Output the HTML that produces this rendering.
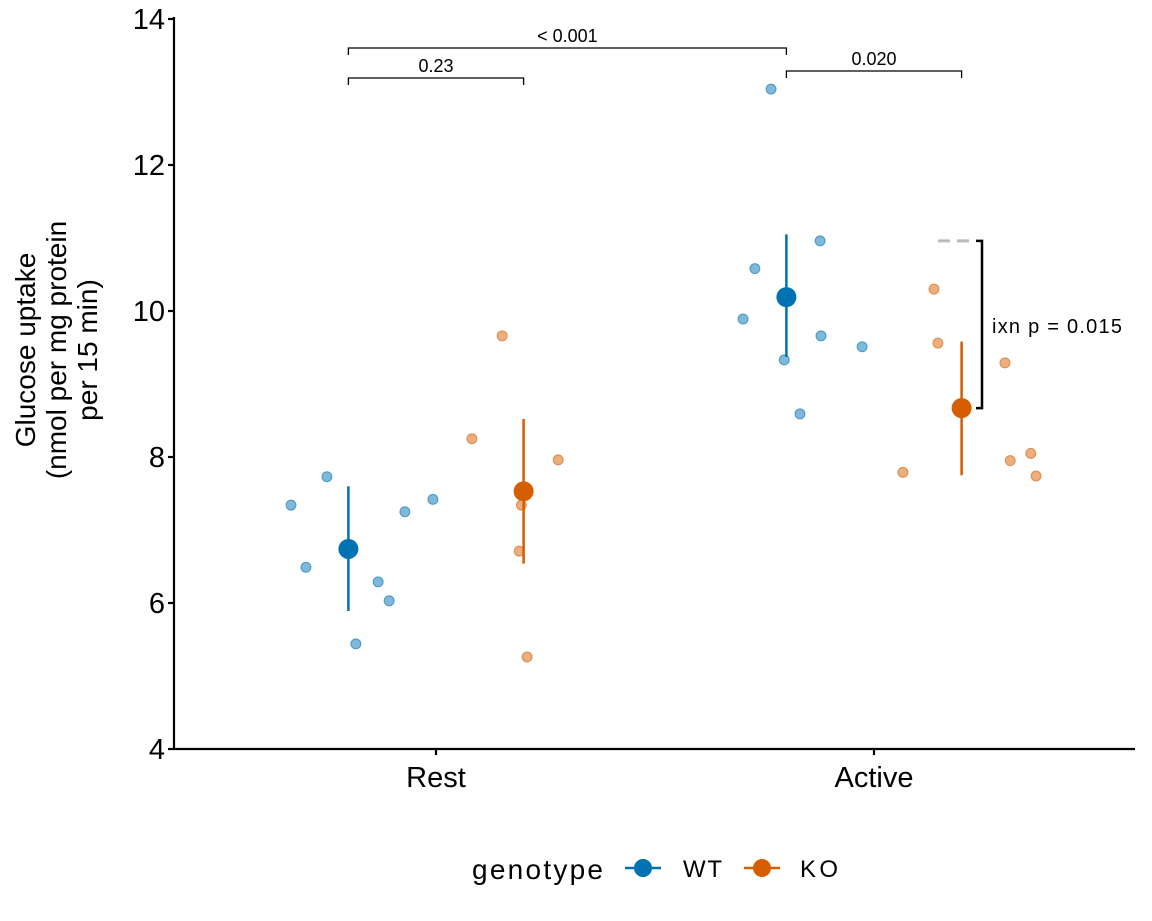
<!DOCTYPE html>
<html><head><meta charset="utf-8"><style>
body{margin:0;background:#fff}
svg{display:block;font-family:"Liberation Sans",Arial,sans-serif}
</style></head><body>
<svg width="1152" height="921" viewBox="0 0 1152 921" id="chart">
<g id="axes"></g>
<g id="marks"></g>
<g id="annot"></g>
<text transform="translate(56,350) rotate(-90)" text-anchor="middle" font-size="28">
<tspan x="0" dy="-21">Glucose uptake</tspan><tspan x="0" dy="31">(nmol per mg protein</tspan><tspan x="0" dy="31">per 15 min)</tspan></text>
<g>
<text x="472" y="879" font-size="28" textLength="131">genotype</text>
<g><line x1="625" y1="868" x2="661" y2="868" stroke="#0072B2" stroke-width="2.5"/><circle cx="643" cy="868" r="9" fill="#0072B2"/><text x="683" y="877" font-size="24" textLength="39">WT</text></g>
<g><line x1="744" y1="868" x2="780" y2="868" stroke="#D55E00" stroke-width="2.5"/><circle cx="762" cy="868" r="9" fill="#D55E00"/><text x="800" y="877" font-size="24" textLength="38">KO</text></g>
</g>
</svg>
<script>
const categories=["Rest","Active"];
const genotypes=["WT","KO"];
const colors={WT:"#0072B2",KO:"#D55E00"};
const yTicks=[4,6,8,10,12,14];
const restWT=[[-0.331,7.34],[-0.297,6.49],[-0.249,7.73],[-0.183,5.44],[-0.132,6.29],[-0.107,6.03],[-0.071,7.25],[-0.007,7.42]];
const restKO=[[0.151,9.66],[0.082,8.25],[0.279,7.96],[0.195,7.34],[0.190,6.71],[0.208,5.26]];
const activeWT=[[-0.235,13.04],[-0.272,10.58],[-0.299,9.89],[-0.205,9.33],[-0.123,10.96],[-0.121,9.66],[-0.027,9.51],[-0.169,8.59]];
const activeKO=[[0.137,10.30],[0.146,9.56],[0.299,9.29],[0.066,7.79],[0.311,7.95],[0.358,8.05],[0.370,7.74]];
const means=[6.74,7.53,10.19,8.67];
const lows=[5.89,6.54,9.37,7.75];
const highs=[7.60,8.52,11.05,9.58];
const NS="http://www.w3.org/2000/svg";
const X0=174,X1=1135,Y0=749,Y1=19;
const x=c=>436+c*438;
const y=v=>Y0-(v-4)*(Y1-Y0)/(4-14);
function mk(tag,attrs,parent){const e=document.createElementNS(NS,tag);for(const k in attrs)e.setAttribute(k,attrs[k]);parent.appendChild(e);return e;}
const axes=document.getElementById('axes'),marks=document.getElementById('marks'),annot=document.getElementById('annot');
let l=mk('line',{x1:X0,y1:Y1-2,x2:X0,y2:Y0,stroke:'#000','stroke-width':2.2},axes);

l=mk('line',{x1:X0,y1:Y0,x2:X1,y2:Y0,stroke:'#000','stroke-width':2.2},axes);

yTicks.forEach(t=>{
 const tk=mk('line',{x1:X0-6,x2:X0,y1:y(t),y2:y(t),stroke:'#000','stroke-width':2.2},axes);
 
 const tx=mk('text',{x:X0-9,y:y(t)+10,'text-anchor':'end','font-size':29},axes);tx.textContent=t;
 
});
categories.forEach((c,i)=>{
 const tk=mk('line',{x1:x(i),x2:x(i),y1:Y0,y2:Y0+6,stroke:'#000','stroke-width':2.2},axes);
 
 const tx=mk('text',{x:x(i),y:787,'text-anchor':'middle','font-size':29},axes);tx.textContent=c;
 
});
const groups=[[0,'WT',restWT],[0,'KO',restKO],[1,'WT',activeWT],[1,'KO',activeKO]];
groups.forEach(([ci,g,pts])=>{
 pts.forEach(([j,v])=>{
  const p=mk('circle',{cx:x(ci+j),cy:y(v),r:5,fill:colors[g],'fill-opacity':0.5,stroke:colors[g],'stroke-opacity':0.6},marks);
  
 });
});
groups.forEach(([ci,g],k)=>{
 const cx=x(ci+(g==='WT'?-0.2:0.2));
 const e=mk('line',{x1:cx,x2:cx,y1:y(lows[k]),y2:y(highs[k]),stroke:colors[g],'stroke-width':2.5},marks);
 
 const m=mk('circle',{cx:cx,cy:y(means[k]),r:10,fill:colors[g]},marks);
 
});
function bracket(a,b,yy,label){
 const g=mk('g',{},annot);
 
 mk('path',{d:`M${a},${yy+7}V${yy}H${b}V${yy+7}`,fill:'none',stroke:'#000','stroke-width':1.3},g);
 const t=mk('text',{x:(a+b)/2,y:yy-6,'text-anchor':'middle','font-size':18},g);t.textContent=label;
}
bracket(x(-0.2),x(0.8),48,'< 0.001');
bracket(x(-0.2),x(0.2),78,'0.23');
bracket(x(0.8),x(1.2),71,'0.020');
const ix=mk('g',{},annot);
mk('line',{x1:938,x2:976,y1:y(10.96),y2:y(10.96),stroke:'#bbb','stroke-width':3,'stroke-dasharray':'12,7'},ix);
mk('path',{d:`M976,${y(10.96)}H982V${y(8.67)}H976`,fill:'none',stroke:'#000','stroke-width':2.5},ix);
const it=mk('text',{x:992,y:333,'font-size':20,textLength:130},ix);it.textContent='ixn p = 0.015';
</script>
</body></html>
